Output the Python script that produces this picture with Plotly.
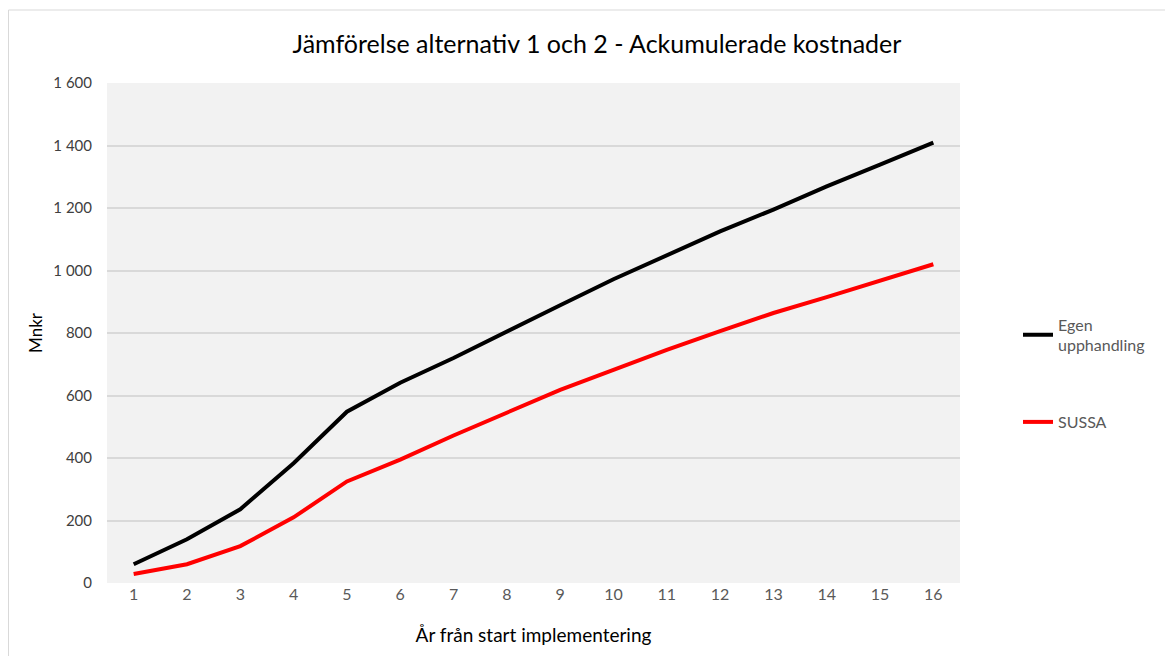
import plotly.graph_objects as go

years = list(range(1, 17))
egen = [60, 140, 236, 383, 548, 641, 720, 806, 889, 972, 1049, 1125, 1195, 1269, 1339, 1409]
sussa = [29, 60, 118, 210, 325, 395, 472, 545, 618, 682, 746, 806, 864, 915, 969, 1020]
yticks = [0, 200, 400, 600, 800, 1000, 1200, 1400, 1600]

FONT = "Lato"
# page has an 8px body margin; figure coordinates below are page - 8
W, H = 1157, 648
L, R, T, B = 99, 952, 75, 575
pw, ph = R - L, B - T

fig = go.Figure()
fig.add_trace(go.Scatter(x=years, y=egen, mode="lines", name="Egen<br>upphandling",
                         line=dict(color="#000000", width=4), legend="legend"))
fig.add_trace(go.Scatter(x=years, y=sussa, mode="lines", name="SUSSA",
                         line=dict(color="#ff0000", width=4), legend="legend2"))

leg_common = dict(xref="container", yref="container", xanchor="left", yanchor="middle",
                  bgcolor="rgba(0,0,0,0)", font=dict(size=16, color="#595959"),
                  itemwidth=30)

fig.update_layout(
    width=W, height=H,
    margin=dict(l=L, r=W - R, t=T, b=H - B, autoexpand=False),
    paper_bgcolor="white", plot_bgcolor="#f2f2f2",
    separators=", ",
    showlegend=True,
    font=dict(family=FONT, color="#595959", size=14),
    title=dict(text="Jämförelse alternativ 1 och 2 - Ackumulerade kostnader",
               x=589 / W, xref="container", xanchor="center",
               y=1 - 36 / H, yref="container", yanchor="middle",
               font=dict(family=FONT, size=25, color="#000000")),
    xaxis=dict(tickmode="array", tickvals=years, ticktext=[str(v) for v in years],
               range=[0.5, 16.5], showgrid=False, zeroline=False, showline=False,
               ticks="", tickfont=dict(size=16, color="#595959"),
               title=dict(text="År från start implementering",
                          font=dict(size=19, color="#000000"), standoff=26)),
    yaxis=dict(tickmode="array", tickvals=yticks, range=[0, 1600],
               tickformat=",d", showgrid=True, gridcolor="#d9d9d9", gridwidth=1.5,
               zeroline=False, showline=False, ticks="", ticklabelstandoff=14,
               tickfont=dict(size=15, color="#404040"),
               title=dict(text="Mnkr", font=dict(size=17, color="#000000"), standoff=6)),
    legend=dict(x=1010 / W, y=1 - 327 / H, **leg_common),
    legend2=dict(x=1010 / W, y=1 - 414 / H, **leg_common),
    shapes=[dict(type="rect", xref="paper", yref="paper",
                 x0=(0.5 - L) / pw, x1=(1300 - L) / pw,
                 y0=(B - 800) / ph, y1=(B - 2) / ph,
                 line=dict(color="#d9d9d9", width=1), fillcolor="rgba(0,0,0,0)",
                 layer="below")],
)
fig.write_html("out.html")
